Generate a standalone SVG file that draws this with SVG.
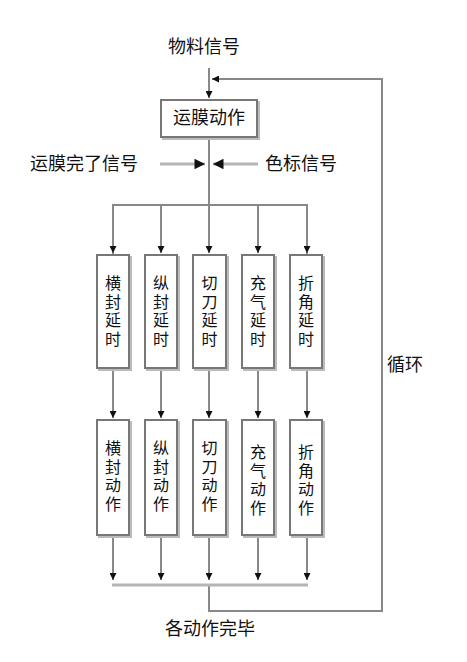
<svg xmlns="http://www.w3.org/2000/svg" width="467" height="662" viewBox="0 0 467 662">
<defs>
<marker id="ah" viewBox="0 0 10 10" refX="10" refY="5" markerWidth="4" markerHeight="3.5" orient="auto" markerUnits="strokeWidth">
<path d="M0,0 L10,5 L0,10 z" fill="#111"/>
</marker>
<style>
text{font-family:"Noto Sans CJK SC","Noto Sans",sans-serif;font-size:18px;fill:#111}
.ln{stroke:#888;stroke-width:2;fill:none}
.lg{stroke:#b5b5b5;stroke-width:3;fill:none}
.bx{fill:#fff;stroke:#777;stroke-width:2}
.sh{fill:none;stroke:#bbb;stroke-width:2}
.vt{text-anchor:middle;font-size:16px}
</style>
</defs>
<rect width="467" height="662" fill="#fff"/>
<g id="connectors">
<line class="ln" x1="209" y1="68" x2="209" y2="98" marker-end="url(#ah)"/>
<polyline class="ln" points="209,585 209,611 382,611 382,79 212,79" marker-end="url(#ah)"/>
<line class="ln" x1="209" y1="138" x2="209" y2="205"/>
<line class="lg" x1="160" y1="164" x2="205" y2="164" marker-end="url(#ah)"/>
<line class="lg" x1="258" y1="164" x2="213" y2="164" marker-end="url(#ah)"/>
<polyline class="ln" points="113,254 113,205 307,205 307,254"/>
<line class="ln" x1="113" y1="230" x2="113" y2="253" marker-end="url(#ah)"/>
<line class="ln" x1="161" y1="205" x2="161" y2="253" marker-end="url(#ah)"/>
<line class="ln" x1="209" y1="205" x2="209" y2="253" marker-end="url(#ah)"/>
<line class="ln" x1="258" y1="205" x2="258" y2="253" marker-end="url(#ah)"/>
<line class="ln" x1="307" y1="230" x2="307" y2="253" marker-end="url(#ah)"/>
<line class="ln" x1="113" y1="369" x2="113" y2="418" marker-end="url(#ah)"/>
<line class="ln" x1="161" y1="369" x2="161" y2="418" marker-end="url(#ah)"/>
<line class="ln" x1="209" y1="369" x2="209" y2="418" marker-end="url(#ah)"/>
<line class="ln" x1="258" y1="369" x2="258" y2="418" marker-end="url(#ah)"/>
<line class="ln" x1="307" y1="369" x2="307" y2="418" marker-end="url(#ah)"/>
<line class="ln" x1="113" y1="536" x2="113" y2="580" marker-end="url(#ah)"/>
<line class="ln" x1="161" y1="536" x2="161" y2="580" marker-end="url(#ah)"/>
<line class="ln" x1="209" y1="536" x2="209" y2="580" marker-end="url(#ah)"/>
<line class="ln" x1="258" y1="536" x2="258" y2="580" marker-end="url(#ah)"/>
<line class="ln" x1="307" y1="536" x2="307" y2="580" marker-end="url(#ah)"/>
<line class="lg" x1="112" y1="585" x2="308" y2="585"/>
</g>
<g id="labels">
<text x="204" y="53" text-anchor="middle">物料信号</text>
<text x="84" y="170" text-anchor="middle">运膜完了信号</text>
<text x="301" y="170" text-anchor="middle">色标信号</text>
<text x="405" y="371" text-anchor="middle">循环</text>
<text x="210" y="635" text-anchor="middle">各动作完毕</text>
</g>
<g id="n-yunmo">
<rect class="sh" x="163" y="102" width="96" height="37"/>
<rect class="bx" x="161" y="100" width="96" height="37"/>
<text x="209" y="124" text-anchor="middle">运膜动作</text>
</g>
<g id="n-d1"><rect class="sh" x="99" y="257" width="32" height="113"/><rect class="bx" x="97" y="255" width="32" height="113"/><text class="vt"><tspan x="113" y="289">横</tspan><tspan x="113" y="307.5">封</tspan><tspan x="113" y="326">延</tspan><tspan x="113" y="344.5">时</tspan></text></g>
<g id="n-d2"><rect class="sh" x="147" y="257" width="32" height="113"/><rect class="bx" x="145" y="255" width="32" height="113"/><text class="vt"><tspan x="161" y="289">纵</tspan><tspan x="161" y="307.5">封</tspan><tspan x="161" y="326">延</tspan><tspan x="161" y="344.5">时</tspan></text></g>
<g id="n-d3"><rect class="sh" x="195" y="257" width="33" height="113"/><rect class="bx" x="193" y="255" width="33" height="113"/><text class="vt"><tspan x="209.5" y="289">切</tspan><tspan x="209.5" y="307.5">刀</tspan><tspan x="209.5" y="326">延</tspan><tspan x="209.5" y="344.5">时</tspan></text></g>
<g id="n-d4"><rect class="sh" x="244" y="257" width="32" height="113"/><rect class="bx" x="242" y="255" width="32" height="113"/><text class="vt"><tspan x="258" y="289">充</tspan><tspan x="258" y="307.5">气</tspan><tspan x="258" y="326">延</tspan><tspan x="258" y="344.5">时</tspan></text></g>
<g id="n-d5"><rect class="sh" x="292" y="257" width="32" height="113"/><rect class="bx" x="290" y="255" width="32" height="113"/><text class="vt"><tspan x="306" y="289">折</tspan><tspan x="306" y="307.5">角</tspan><tspan x="306" y="326">延</tspan><tspan x="306" y="344.5">时</tspan></text></g>
<g id="n-a1"><rect class="sh" x="99" y="422" width="32" height="115"/><rect class="bx" x="97" y="420" width="32" height="115"/><text class="vt"><tspan x="113" y="454">横</tspan><tspan x="113" y="472.5">封</tspan><tspan x="113" y="491">动</tspan><tspan x="113" y="509.5">作</tspan></text></g>
<g id="n-a2"><rect class="sh" x="147" y="422" width="32" height="115"/><rect class="bx" x="145" y="420" width="32" height="115"/><text class="vt"><tspan x="161" y="454">纵</tspan><tspan x="161" y="472.5">封</tspan><tspan x="161" y="491">动</tspan><tspan x="161" y="509.5">作</tspan></text></g>
<g id="n-a3"><rect class="sh" x="195" y="422" width="33" height="115"/><rect class="bx" x="193" y="420" width="33" height="115"/><text class="vt"><tspan x="209.5" y="454">切</tspan><tspan x="209.5" y="472.5">刀</tspan><tspan x="209.5" y="491">动</tspan><tspan x="209.5" y="509.5">作</tspan></text></g>
<g id="n-a4"><rect class="sh" x="244" y="422" width="32" height="115"/><rect class="bx" x="242" y="420" width="32" height="115"/><text class="vt"><tspan x="258" y="458">充</tspan><tspan x="258" y="476.5">气</tspan><tspan x="258" y="495">动</tspan><tspan x="258" y="513.5">作</tspan></text></g>
<g id="n-a5"><rect class="sh" x="292" y="422" width="32" height="115"/><rect class="bx" x="290" y="420" width="32" height="115"/><text class="vt"><tspan x="306" y="458">折</tspan><tspan x="306" y="476.5">角</tspan><tspan x="306" y="495">动</tspan><tspan x="306" y="513.5">作</tspan></text></g>
</svg>
